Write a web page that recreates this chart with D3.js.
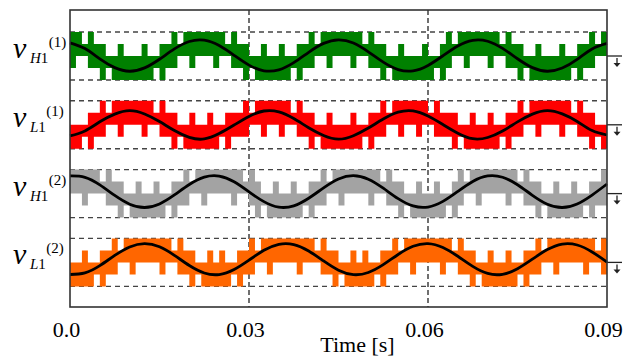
<!DOCTYPE html>
<html>
<head>
<meta charset="utf-8">
<script src="https://cdn.jsdelivr.net/npm/d3@7"></script>
<style>
  body { margin: 0; background: #fff; }
  svg { display: block; }
  svg text { font-family: "Liberation Serif", "Times New Roman", serif; }
  .it { font-style: italic; }
</style>
</head>
<body>
<svg id="chart"></svg>
<script>
const width = 638, height = 359;
const margin = { top: 10, right: 31, bottom: 52, left: 70 };

// x axis
const tickValues = [0, 0.03, 0.06, 0.09];
const tickLabels = ["0.0", "0.03", "0.06", "0.09"];
const gridValues = [0.03, 0.06];

// sample step of the black (fundamental) curves and of the PWM cells, in seconds
const lineStep = 0.0025;
const cellStep = 0.001;

// fundamental curves, in level units around each trace's zero
const greenLine = [1.10, 0.62, -0.24, -0.97, -1.27, -0.99, -0.27, 0.59, 1.21, 1.32, 0.87, 0.06, -0.76, -1.23, -1.15, -0.55, 0.31, 1.05, 1.35, 1.08, 0.35, -0.51, -1.13, -1.24, -0.79, 0.02, 0.84, 1.31, 1.23, 0.63, -0.23, -0.97, -1.27, -1.00, -0.28, 0.59, 1.05];
const redLine = [-0.93, -0.51, 0.25, 0.89, 1.18, 0.90, 0.27, -0.48, -1.05, -1.18, -0.73, -0.02, 0.70, 1.15, 1.08, 0.52, -0.24, -0.89, -1.20, -0.91, -0.27, 0.48, 1.05, 1.16, 0.73, 0.02, -0.70, -1.16, -1.06, -0.52, 0.24, 0.89, 1.18, 0.91, 0.28, -0.48, -0.85];
const grayLine = [1.47, 1.36, 0.73, -0.15, -0.88, -1.16, -0.86, -0.11, 0.76, 1.37, 1.46, 0.99, 0.15, -0.67, -1.13, -1.02, -0.39, 0.48, 1.22, 1.50, 1.20, 0.45, -0.42, -1.03, -1.12, -0.65, 0.18, 1.01, 1.47, 1.36, 0.74, -0.14, -0.88, -1.16, -0.86, -0.12, 0.80];
const orangeLine = [-1.01, -0.88, -0.27, 0.58, 1.29, 1.57, 1.30, 0.59, -0.26, -0.88, -1.01, -0.59, 0.19, 1.01, 1.51, 1.49, 0.95, 0.12, -0.65, -1.02, -0.84, -0.19, 0.66, 1.34, 1.57, 1.24, 0.51, -0.33, -0.92, -0.99, -0.53, 0.27, 1.07, 1.53, 1.45, 0.87, 0.03];

// PWM envelopes per 1 ms cell, as level index 0..4 (bottom dashed line .. top dashed line)
const greenHi = [4,4,3, 4,3,3, 2,2,3,2,2,2,3,2,2, 3,3,4, 3,4,4,4,4,4,4,4,3, 4,3,3, 2,2,3,2,2,3,2,2, 3,3,4, 3,4,4,4,4,4,4,4,3, 4,3,3, 2,2,3,2,2,2,3,2,2, 3,4, 3,4,4,4,4,4,4,4,3, 4,3,3, 2,2,3,2,2,2,3,2,2, 3,3,4, 3,4];
const greenLo = [1,2,2, 1,1,0, 1,0,0,0,0,0,0,0,1, 0,1,1, 2,2,1,2,2,2,1,2,2, 1,1,0, 1,0,0,0,0,0,0,1, 0,1,1, 2,2,1,2,2,2,1,2,2, 1,1,0, 1,0,0,0,0,0,0,0,1, 0,1, 2,2,1,2,2,2,1,2,2, 1,1,0, 1,0,0,0,0,0,0,0,1, 0,1,1, 2,2];
const redHi = [2,2,2, 3,3,4, 3,4,4,4,4,4,4,4,3, 4,3,3, 2,2,3,2,2,3,2,2, 3,3,3,4, 3,4,4,4,4,4,4,3, 4,3,3, 2,2,3,2,2,2,3,2,2, 3,3,4, 3,4,4,4,4,4,4,3, 4,3,3,3, 2,2,3,2,2,3,2,2, 3,3,4, 3,4,4,4,4,4,4,4,3, 4,3,3, 2,2];
const redLo = [0,0,1, 0,1,1, 2,2,1,2,2,2,1,2,2, 1,1,0, 1,0,0,0,0,0,0,1, 0,1,1,1, 2,2,1,2,2,1,2,2, 1,1,0, 1,0,0,0,0,0,0,0,1, 0,1,1, 2,2,1,2,2,1,2,2, 1,1,1,0, 1,0,0,0,0,0,0,1, 0,1,1, 2,2,1,2,2,2,1,2,2, 1,1,0, 1,0];
const grayHi = [4,4,4,4,4,3, 4,3,3, 2,2,3,2,2,3,2,2, 3,3,4, 3,4,4,4,4,4,4,4,4,3, 4,3, 2,2,3,2,2,3,2,2, 3,3,4, 3,4,4,4,4,4,4,4,4,3, 4,3,3, 2,2,3,2,2,3,2,2, 3,4, 3,4,4,4,4,4,4,4,4,3, 4,3,3, 2,2,3,2,2,3,2,2, 3,3,4];
const grayLo = [2,2,1,2,2,2, 1,1,0, 1,0,0,0,0,0,0,1, 0,1,1, 2,2,1,2,2,2,2,1,2,2, 1,0, 1,0,0,0,0,0,0,1, 0,1,1, 2,2,1,2,2,2,2,1,2,2, 1,1,0, 1,0,0,0,0,0,0,1, 0,1, 2,2,1,2,2,2,2,1,2,2, 1,1,0, 1,0,0,0,0,0,0,1, 0,1,1];
const orangeHi = [2,2,3,2,2, 3,3,4, 3,4,4,4,4,4,4,4,4,3, 4,3,3, 2,2,3,2,3,2,2, 3,3,4, 3,4,4,4,4,4,4,4,4,4,3, 4,3,3, 2,2,3,2,3,2,2, 3,3,4, 3,4,4,4,4,4,4,4,4,3, 4,3,3, 2,2,3,2,2,3,2,2, 3,3,4, 3,4,4,4,4,4,4,4,4,3, 4];
const orangeLo = [0,0,0,0,1, 0,1,1, 2,2,1,2,2,2,2,1,2,2, 1,1,0, 1,0,0,0,0,0,1, 0,1,1, 2,2,1,2,2,2,2,1,2,2,2, 1,1,0, 1,0,0,0,0,0,1, 0,1,1, 2,2,1,2,2,2,2,1,2,2, 1,1,0, 1,0,0,0,0,0,0,1, 0,1,1, 2,2,1,2,2,2,2,1,2,2, 1];

const traces = [
    { sub: "H", sup: "(1)", color: "#008000", line: greenLine, hi: greenHi, lo: greenLo },
    { sub: "L", sup: "(1)", color: "#ff0000", line: redLine, hi: redHi, lo: redLo },
    { sub: "H", sup: "(2)", color: "#a3a3a3", line: grayLine, hi: grayHi, lo: grayLo },
    { sub: "L", sup: "(2)", color: "#ff6600", line: orangeLine, hi: orangeHi, lo: orangeLo },
];

const innerW = width - margin.left - margin.right;
const innerH = height - margin.top - margin.bottom;

const x = d3.scaleLinear().domain([0, 0.09]).range([0, innerW]);
// trace zero-level positions
const yTrace = d3.scalePoint().domain(d3.range(traces.length)).range([46, 252.4]);
// level offset inside a trace (0 = trace zero)
const yLevel = d3.scaleLinear().domain([-2, 2]).range([24, -24]);

const svg = d3.select("#chart").attr("width", width).attr("height", height);
const g = svg.append("g").attr("transform", `translate(${margin.left},${margin.top})`);

// vertical grid lines
g.selectAll(".vgrid")
    .data(gridValues)
    .enter()
    .append("line")
    .attr("x1", d => x(d))
    .attr("x2", d => x(d))
    .attr("y1", 0)
    .attr("y2", innerH)
    .attr("stroke", "#333")
    .attr("stroke-width", 1.4)
    .attr("stroke-dasharray", "5,3");

traces.forEach((tr, k) => {
    const tg = g.append("g").attr("transform", `translate(0,${yTrace(k)})`);

    // dashed limit lines
    tg.selectAll(".hgrid")
        .data([2, -2])
        .enter()
        .append("line")
        .attr("x1", 0)
        .attr("x2", innerW)
        .attr("y1", d => yLevel(d))
        .attr("y2", d => yLevel(d))
        .attr("stroke", "#444")
        .attr("stroke-width", 1.4)
        .attr("stroke-dasharray", "5,4");

    // PWM band
    const n = Math.min(tr.hi.length, tr.lo.length);
    const cells = d3.range(n).map(i => ({ t: i * cellStep, hi: tr.hi[i] - 2, lo: tr.lo[i] - 2 }));
    const last = cells[n - 1];
    cells.push({ t: n * cellStep, hi: last.hi, lo: last.lo });

    const band = d3.area()
        .x(d => x(d.t))
        .y0(d => yLevel(d.lo))
        .y1(d => yLevel(d.hi))
        .curve(d3.curveStepAfter);

    tg.append("path")
        .datum(cells)
        .attr("d", band)
        .attr("fill", tr.color);

    // fundamental
    const line = d3.line()
        .x((d, i) => x(i * lineStep))
        .y(d => yLevel(d))
        .curve(d3.curveNatural);

    tg.append("path")
        .datum(tr.line)
        .attr("d", line)
        .attr("fill", "none")
        .attr("stroke", "#000")
        .attr("stroke-width", 2.8);

    // zero marker on the right
    const mx = x(0.09);
    tg.append("line")
        .attr("x1", mx).attr("x2", mx + 15)
        .attr("y1", yLevel(0)).attr("y2", yLevel(0))
        .attr("stroke", "#222").attr("stroke-width", 1.3);
    tg.append("line")
        .attr("x1", mx + 10).attr("x2", mx + 10)
        .attr("y1", yLevel(0) + 2).attr("y2", yLevel(0) + 8)
        .attr("stroke", "#222").attr("stroke-width", 1.3);
    tg.append("path")
        .attr("d", `M${mx + 6.5},${yLevel(0) + 7} L${mx + 13.5},${yLevel(0) + 7} L${mx + 10},${yLevel(0) + 11} Z`)
        .attr("fill", "#222");

    // label v_{H1}^{(1)}
    const lab = svg.append("g").attr("fill", "#000");
    const cy = margin.top + yTrace(k);
    lab.append("text")
        .attr("class", "it")
        .attr("x", 13).attr("y", cy + 2)
        .style("font-size", "30px")
        .text("v");
    const sub = lab.append("text")
        .attr("x", 30).attr("y", cy + 7)
        .style("font-size", "15px");
    sub.append("tspan").attr("class", "it").text(tr.sub);
    sub.append("tspan").text("1");
    const subLen = sub.node().getComputedTextLength();
    lab.append("text")
        .attr("x", 30 + subLen + 0.5).attr("y", cy - 9)
        .style("font-size", "15px")
        .text(tr.sup);
});

// frame
g.append("rect")
    .attr("x", 0).attr("y", 0)
    .attr("width", innerW).attr("height", innerH)
    .attr("fill", "none")
    .attr("stroke", "#333")
    .attr("stroke-width", 1.6);

// x axis labels
const xAxis = d3.axisBottom(x)
    .tickValues(tickValues)
    .tickFormat((d, i) => tickLabels[i])
    .tickSize(0)
    .tickPadding(14);

const ax = g.append("g").attr("transform", `translate(0,${innerH})`).call(xAxis);
ax.select(".domain").remove();
ax.attr("font-family", null).attr("font-size", null);
ax.selectAll("text")
    .style("font-size", "22px")
    .attr("fill", "#000")
    .attr("dx", -4);

g.append("text")
    .attr("x", x(0.045) + 19)
    .attr("y", innerH + 45)
    .attr("text-anchor", "middle")
    .style("font-size", "22px")
    .text("Time [s]");
</script>
</body>
</html>
